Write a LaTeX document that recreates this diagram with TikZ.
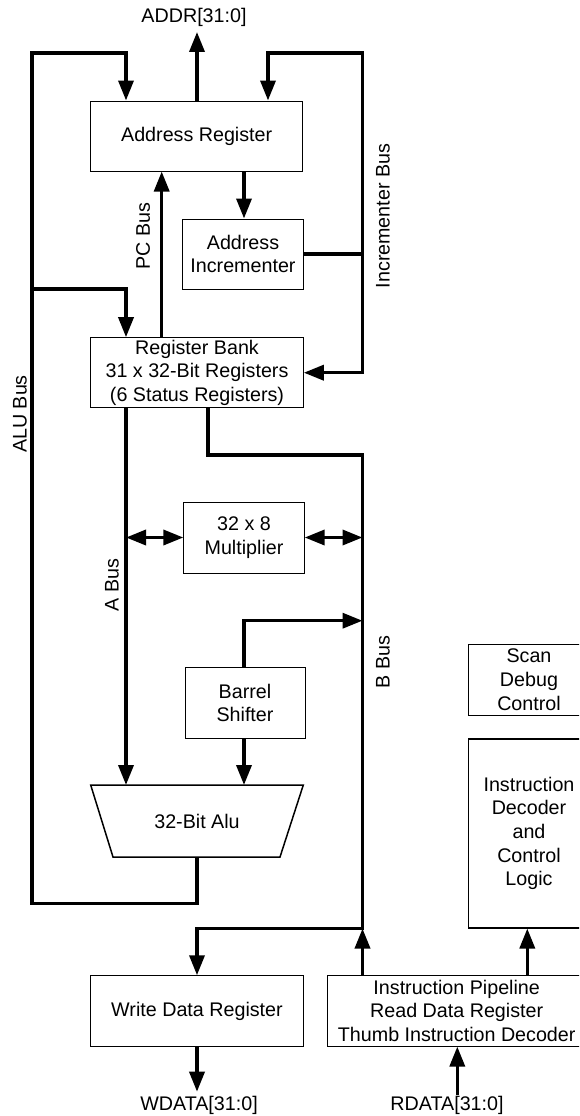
\documentclass[tikz,border=0pt]{standalone}
\usepackage{fontspec}
\setmainfont{Liberation Sans}
\usetikzlibrary{arrows.meta}
\begin{document}
\begin{tikzpicture}[x=1pt,y=-1pt,
  txt/.style={font=\fontsize{19.7}{23.7}\selectfont},
  box/.style={txt, draw, line width=1pt, inner sep=0pt, align=center},
  lbl/.style={txt, inner sep=0pt},
  bus/.style={line width=3.5pt},
  arr/.style={bus, -{Triangle[length=20pt,width=15pt]}},
  darr/.style={bus, {Triangle[length=20pt,width=15pt]}-{Triangle[length=20pt,width=15pt]}}]
\useasboundingbox (0,0) rectangle (579,1116);
\clip (0,0) rectangle (579,1116);

% bus columns and rows
\coordinate (xL) at (32,0);
\coordinate (xA) at (126,0);
\coordinate (xPC) at (161.7,0);
\coordinate (xM) at (197,0);
\coordinate (xB0) at (208,0);
\coordinate (xI) at (244,0);
\coordinate (xR) at (268,0);
\coordinate (xB) at (362.5,0);
\coordinate (xRD) at (457.3,0);
\coordinate (xID) at (527.3,0);
\coordinate (yTop) at (0,53);
\coordinate (yAB) at (0,289);
\coordinate (yBb) at (0,455);
\coordinate (yBS) at (0,620.7);
\coordinate (yAO) at (0,903.3);
\coordinate (addrtip) at (197,32);
\coordinate (wdtip) at (197,1091.7);
\coordinate (rdtail) at (457.3,1095);

% boxes
\node[box, minimum width=212pt, minimum height=70pt] (areg) at (196.7,136) {Address Register};
\node[box, minimum width=120.6pt, minimum height=70pt] (ainc) at (243,254) {Address\\Incrementer};
\node[box, minimum width=212.6pt, minimum height=70pt] (rbank) at (197,372.7) {Register Bank\\31 x 32-Bit Registers\\(6 Status Registers)};
\node[box, minimum width=120.3pt, minimum height=71pt] (mult) at (244,537.5) {32 x 8\\Multiplier};
\node[box, minimum width=120pt, minimum height=70.3pt] (barrel) at (245,703) {Barrel\\Shifter};
\node[box, minimum width=213.2pt, minimum height=70.3pt] (wdr) at (197,1010.9) {Write Data Register};
\node[box, minimum width=259pt, minimum height=70.3pt] (ipipe) at (456.7,1010.9) {Instruction Pipeline\\Read Data Register\\Thumb Instruction Decoder};
\node[box, minimum width=121pt, minimum height=70.7pt] (scan) at (529,679.7) {Scan\\Debug\\Control};
\node[box, line width=1.5pt, minimum width=121pt, minimum height=188.7pt] (idec) at (529,833.4) {Instruction\\Decoder\\and\\Control\\Logic};

% ALU
\coordinate (alutl) at (90.7,785);
\coordinate (alutr) at (303.3,785);
\coordinate (alubr) at (280,857);
\coordinate (alubl) at (113,857);
\draw[line width=1.5pt] (alutl) -- (alutr) -- (alubr) -- (alubl) -- cycle;
\node[lbl] (alu) at (197,821) {32-Bit Alu};

% labels
\node[lbl] (addr) at (194,17) {ADDR[31:0]};
\node[lbl] (wdata) at (199,1105) {WDATA[31:0]};
\node[lbl] (rdata) at (447,1105) {RDATA[31:0]};
\node[lbl, rotate=90] (alubus) at (20,414) {ALU Bus};
\node[lbl, rotate=90] (pcbus) at (143,236) {PC Bus};
\node[lbl, rotate=90] (incbus) at (383,216) {Incrementer Bus};
\node[lbl, rotate=90] (abus) at (112,585) {A Bus};
\node[lbl, rotate=90] (bbus) at (383,662) {B Bus};

% connectors
\draw[arr] (alubl -| xM) -- (xM |- yAO) -- (xL |- yAO) -- (xL |- yTop) -- (xA |- yTop) -- (areg.north -| xA);
\draw[arr] (xL |- yAB) -- (xA |- yAB) -- (rbank.north -| xA);
\draw[arr] (areg.north -| xM) -- (addrtip);
\draw[bus] (ainc.east) -- (xB |- ainc.east);
\draw[darr] (areg.north -| xR) -- (xR |- yTop) -- (xB |- yTop) -- (xB |- rbank.east) -- (rbank.east);
\draw[arr] (areg.south -| xI) -- (ainc.north -| xI);
\draw[arr] (rbank.north -| xPC) -- (areg.south -| xPC);
\draw[arr] (rbank.south -| xA) -- (alutl -| xA);
\draw[darr] (xA |- mult.west) -- (mult.west);
\draw[darr] (mult.east) -- (xB |- mult.east);
\draw[arr] (rbank.south -| xB0) -- (xB0 |- yBb) -- (xB |- yBb) -- (xB |- idec.south) -- (xM |- idec.south) -- (wdr.north -| xM);
\draw[arr] (barrel.north -| xI) -- (xI |- yBS) -- (xB |- yBS);
\draw[arr] (barrel.south -| xI) -- (alutl -| xI);
\draw[arr] (ipipe.north -| xB) -- (xB |- idec.south);
\draw[arr] (ipipe.north -| xID) -- (idec.south -| xID);
\draw[arr] (wdr.south -| xM) -- (wdtip);
\draw[arr] (rdtail) -- (ipipe.south -| xRD);
\end{tikzpicture}
\end{document}
